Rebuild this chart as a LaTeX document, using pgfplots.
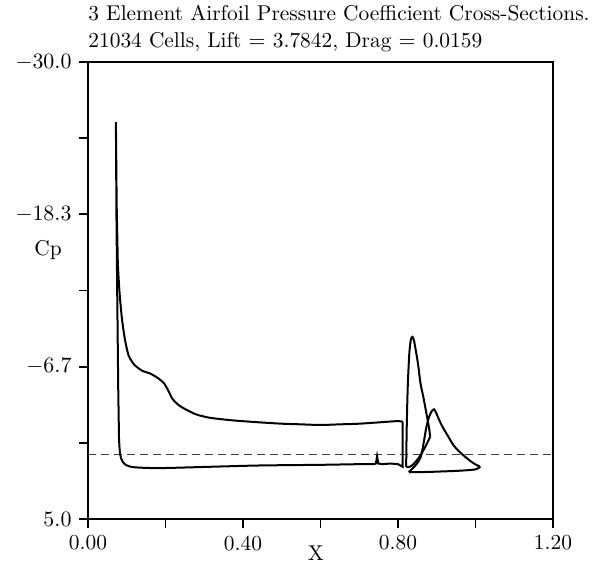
\documentclass[border=0pt]{standalone}
\usepackage{pgfplots}
\pgfplotsset{compat=1.18}
\begin{document}
\fontsize{10.7}{13}\selectfont
\begin{tikzpicture}
\begin{axis}[
  scale only axis, width=232.5pt, height=228.5pt,
  xmin=0, xmax=1.2, ymin=-30, ymax=5, y dir=reverse,
  xtick={0,0.4,0.8,1.2}, minor xtick={0.2,0.6,1.0},
  xticklabels={0.00,0.40,0.80,1.20},
  ytick={-30,-18.333,-6.667,5}, yticklabels={$-30.0$,$-18.3$,$-6.7$,$5.0$},
  minor ytick={-24.1667,-12.5,-0.8333},
  tick pos=left, tick align=outside,
  major tick length=4.5pt, minor tick length=4.5pt,
  axis line style={line width=1pt},
  every tick/.style={black, line width=0.9pt},
  clip=false,
]
% reference line Cp = 0
\addplot[black!75, line width=0.7pt, dash pattern=on 4pt off 2.5pt] coordinates {(0,0.05) (1.2,0.05)};
% main element: upper surface
\addplot[black, line width=1pt, smooth, tension=0.4] coordinates {
(0.812,-2.45) (0.80,-2.5) (0.75,-2.4) (0.70,-2.3) (0.65,-2.25) (0.60,-2.2) (0.55,-2.25) (0.50,-2.3) (0.444,-2.4) (0.375,-2.55) (0.315,-2.75) (0.28,-3.0) (0.255,-3.35) (0.235,-3.7) (0.218,-4.2) (0.206,-4.9) (0.196,-5.4) (0.180,-5.8) (0.160,-6.15) (0.140,-6.35) (0.120,-6.8) (0.105,-7.5) (0.095,-8.8) (0.087,-10.5) (0.081,-12.5) (0.077,-14.5)
};
% spike and lower surface
\addplot[black, line width=1pt] coordinates {
(0.077,-14.5) (0.074,-19) (0.072,-25.4) (0.0735,-18) (0.0755,-12) (0.078,-5) (0.080,-1.2)
};
\addplot[black, line width=1pt, smooth, tension=0.5] coordinates {
(0.080,-1.2) (0.082,-0.2) (0.086,0.4) (0.093,0.75) (0.105,0.95) (0.125,1.05) (0.186,1.1) (0.315,1.0) (0.444,0.9) (0.60,0.85) (0.70,0.8) (0.738,0.8)
};
\addplot[black, line width=1pt] coordinates {
(0.738,0.8) (0.743,0.75) (0.746,0.2) (0.749,0.75) (0.76,0.8) (0.78,0.75) (0.80,0.8) (0.812,1.0) (0.812,-2.45)
};
% second element
\addplot[black, line width=1pt, smooth, tension=0.5] coordinates {
(0.821,1.0) (0.8225,-2) (0.825,-5) (0.829,-7.6) (0.833,-8.7) (0.837,-8.95) (0.841,-8.7) (0.846,-7.9) (0.852,-6.8) (0.858,-5.4) (0.865,-4.4) (0.872,-3.3) (0.877,-2.5) (0.881,-1.8) (0.883,-1.3)
};
\addplot[black, line width=1pt, smooth, tension=0.5] coordinates {
(0.883,-1.3) (0.870,-0.5) (0.855,0.25) (0.840,0.8) (0.830,1.0) (0.821,1.0)
};
% flap
\addplot[black, line width=1pt, smooth, tension=0.5] coordinates {
(0.828,1.4) (0.845,0.9) (0.858,0.3) (0.866,-0.8) (0.873,-2.0) (0.880,-2.8) (0.887,-3.25) (0.893,-3.4) (0.899,-3.1) (0.906,-2.6) (0.916,-2.0) (0.930,-1.3) (0.942,-0.7) (0.955,-0.25) (0.968,0.1) (0.982,0.45) (0.996,0.75) (1.012,1.0)
};
\addplot[black, line width=1pt, smooth, tension=0.5] coordinates {
(1.012,1.0) (1.0,1.2) (0.96,1.3) (0.92,1.35) (0.87,1.4) (0.828,1.4)
};
\node[anchor=base west, inner sep=0] at ([yshift=21pt]axis description cs:0,1) {3 Element Airfoil Pressure Coefficient Cross-Sections.};
\node[anchor=base west, inner sep=0] at ([yshift=7.5pt]axis description cs:0,1) {21034 Cells, Lift $=$ 3.7842, Drag $=$ 0.0159};
\node at (axis description cs:-0.086,0.589) {Cp};
\node at ([yshift=-17pt]axis description cs:0.49,0) {X};
\coordinate (bl) at ([xshift=-44pt,yshift=-24.5pt]axis description cs:0,0);
\coordinate (tr) at ([xshift=20pt,yshift=31pt]axis description cs:1,1);
\end{axis}
\pgfresetboundingbox
\path[use as bounding box] (bl) rectangle (tr);
\end{tikzpicture}
\end{document}
